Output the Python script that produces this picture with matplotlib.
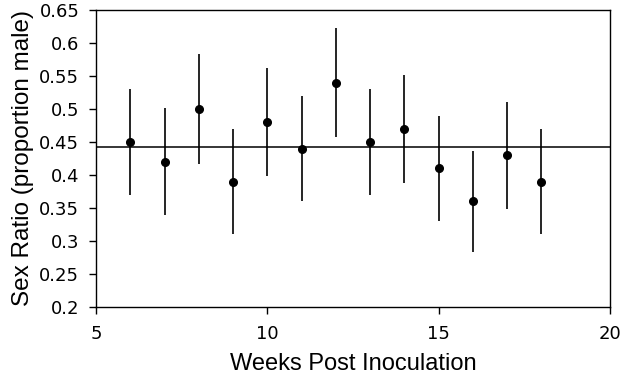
import matplotlib
matplotlib.use("Agg")
import matplotlib.pyplot as plt
import numpy as np

# weeks post inoculation and sex ratio, with error bar half-widths
weeks = [6, 7, 8, 9, 10, 11, 12, 13, 14, 15, 16, 17, 18]
ratio = [0.45, 0.42, 0.50, 0.39, 0.48, 0.44, 0.54, 0.45, 0.47, 0.41, 0.36, 0.43, 0.39]
err = [0.08, 0.081, 0.083, 0.08, 0.082, 0.08, 0.083, 0.08, 0.082, 0.08, 0.077, 0.081, 0.08]
overall = 0.442

fig = plt.figure(figsize=(6.22, 3.81), dpi=100)
ax = fig.add_axes([96/622, 1 - 307/381, (610-96)/622, (307-10)/381])

ax.errorbar(weeks, ratio, yerr=err, fmt='o', color='black', ms=5.5,
            elinewidth=1.2, capsize=0)
ax.axhline(overall, color='black', lw=1.1)

ax.set_xlim(5, 20)
ax.set_ylim(0.2, 0.65)
ax.set_xticks([5, 10, 15, 20])
ax.set_yticks(np.arange(0.2, 0.651, 0.05))
ax.set_yticklabels(['0.2', '0.25', '0.3', '0.35', '0.4', '0.45', '0.5', '0.55', '0.6', '0.65'])
ax.tick_params(labelsize=13, length=5, width=1, direction='out')
ax.tick_params(axis='y', pad=7)
ax.tick_params(axis='x', pad=8)
for s in ax.spines.values():
    s.set_linewidth(1)

ax.set_xlabel("Weeks Post Inoculation", fontsize=17, family='Liberation Sans', labelpad=7)
ax.set_ylabel("Sex Ratio (proportion male)", fontsize=17.5, family='Liberation Sans', labelpad=4)

fig.savefig('out.png', dpi=100)
